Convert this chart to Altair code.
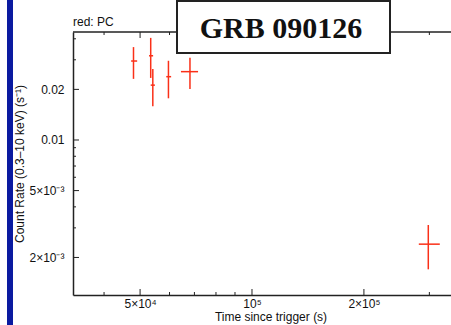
import altair as alt
import pandas as pd

# ---- data ----
t_mid = [4.80e4, 5.34e4, 5.41e4, 5.96e4, 6.81e4, 2.98e5]
t_lo = [4.73e4, 5.285e4, 5.34e4, 5.88e4, 6.44e4, 2.81e5]
t_hi = [4.91e4, 5.42e4, 5.48e4, 6.06e4, 7.16e4, 3.20e5]
rate = [0.0295, 0.0317, 0.0212, 0.0238, 0.0255, 2.40e-3]
rate_lo = [0.0231, 0.0234, 0.0159, 0.0177, 0.0201, 1.70e-3]
rate_hi = [0.0357, 0.0405, 0.0264, 0.0296, 0.0308, 3.12e-3]

x_major = [5e4, 1e5, 2e5]
x_labels = ["5×10⁴", "10⁵", "2×10⁵"]
x_minor = [4e4, 6e4, 7e4, 8e4, 9e4, 3e5]
y_major = [2e-3, 5e-3, 0.01, 0.02]
y_labels = ["2×10⁻³", "5×10⁻³", "0.01", "0.02"]
y_minor = [3e-3, 4e-3, 6e-3, 7e-3, 8e-3, 9e-3, 0.03, 0.04]

x_domain = [3.30e4, 3.43e5]
y_domain = [1.196e-3, 0.0439]

title_text = "GRB 090126"
legend_text = "red: PC"
x_title = "Time since trigger (s)"
y_title = "Count Rate (0.3–10 keV) (s⁻¹)"

W, H = 378, 263
RED = "#fa3018"
AX = "#222222"
FONT = "Liberation Sans"


def label_expr(vals, labs):
    expr = "''"
    for v, l in reversed(list(zip(vals, labs))):
        expr = f"abs(datum.value - {v}) < {v * 1e-6} ? '{l}' : ({expr})"
    return expr


xaxis = alt.Axis(values=x_major, labelExpr=label_expr(x_major, x_labels), ticks=False,
                 grid=False, title=None, domainColor=AX, domainWidth=1.5,
                 labelFont=FONT, labelFontSize=12, labelColor="#111", labelPadding=3)
yaxis = alt.Axis(values=y_major, labelExpr=label_expr(y_major, y_labels), ticks=False,
                 grid=False, title=None, domainColor=AX, domainWidth=1.5,
                 labelFont=FONT, labelFontSize=12, labelColor="#111", labelPadding=9)

xs = alt.Scale(type="log", domain=x_domain, nice=False)
ys = alt.Scale(type="log", domain=y_domain, nice=False)

df = pd.DataFrame({"t": t_mid, "tlo": t_lo, "thi": t_hi,
                   "r": rate, "rlo": rate_lo, "rhi": rate_hi})

vbars = alt.Chart(df).mark_rule(color=RED, strokeWidth=1.5).encode(
    x=alt.X("t:Q", scale=xs, axis=xaxis),
    y=alt.Y("rlo:Q", scale=ys, axis=yaxis),
    y2="rhi:Q",
)
hbars = alt.Chart(df).mark_rule(color=RED, strokeWidth=1.5).encode(
    x=alt.X("tlo:Q", scale=xs, axis=xaxis),
    x2="thi:Q",
    y=alt.Y("r:Q", scale=ys, axis=yaxis),
)

one = pd.DataFrame({"a": [0]})


def xticks(vals, length):
    d = pd.DataFrame({"v": vals})
    bot = alt.Chart(d).mark_rule(color=AX, strokeWidth=1).encode(
        x=alt.X("v:Q", scale=xs, axis=xaxis), y=alt.value(H), y2=alt.value(H - length))
    top = alt.Chart(d).mark_rule(color=AX, strokeWidth=1).encode(
        x=alt.X("v:Q", scale=xs, axis=xaxis), y=alt.value(0), y2=alt.value(length))
    return [bot, top]


def yticks(vals, length):
    d = pd.DataFrame({"v": vals})
    return [alt.Chart(d).mark_rule(color=AX, strokeWidth=1).encode(
        y=alt.Y("v:Q", scale=ys, axis=yaxis), x=alt.value(0), x2=alt.value(length))]


top_line = alt.Chart(one).mark_rule(color=AX, strokeWidth=1.5).encode(
    x=alt.value(0), x2=alt.value(W), y=alt.value(0))

blue_bar = alt.Chart(one).mark_rect(color="#0a1aa0").encode(
    x=alt.value(-66), x2=alt.value(-60), y=alt.value(-32), y2=alt.value(293))

box = alt.Chart(one).mark_rect(fill="white", stroke="#222", strokeWidth=2).encode(
    x=alt.value(104), x2=alt.value(317), y=alt.value(-31), y2=alt.value(21))

title = alt.Chart(one).mark_text(text=title_text, font="Liberation Serif", fontWeight="bold",
                                 fontSize=30, color="#111", align="center",
                                 baseline="alphabetic").encode(
    x=alt.value(208), y=alt.value(6))

legend = alt.Chart(one).mark_text(text=legend_text, font=FONT, fontSize=12, color="#111",
                                  align="left", baseline="alphabetic").encode(
    x=alt.value(0), y=alt.value(-6))

xt = alt.Chart(one).mark_text(text=x_title, font=FONT, fontSize=12, color="#111",
                              align="center", baseline="middle").encode(
    x=alt.value(198), y=alt.value(285))

yt = alt.Chart(one).mark_text(text=y_title, font=FONT, fontSize=12, color="#111",
                              align="center", baseline="middle", angle=270).encode(
    x=alt.value(-53), y=alt.value(132))

layers = [blue_bar, top_line] + xticks(x_minor, 3) + xticks(x_major, 6) + \
    yticks(y_minor, 3) + yticks(y_major, 6) + [vbars, hbars, box, title, legend, xt, yt]

chart = alt.layer(*layers).properties(
    width=W, height=H,
    autosize=alt.AutoSizeParams(type="none"),
    padding={"left": 73, "top": 32, "right": 0, "bottom": 30},
    background="white",
).configure_view(stroke=None)

chart.save("out.html", embed_options={"renderer": "svg", "actions": False})
